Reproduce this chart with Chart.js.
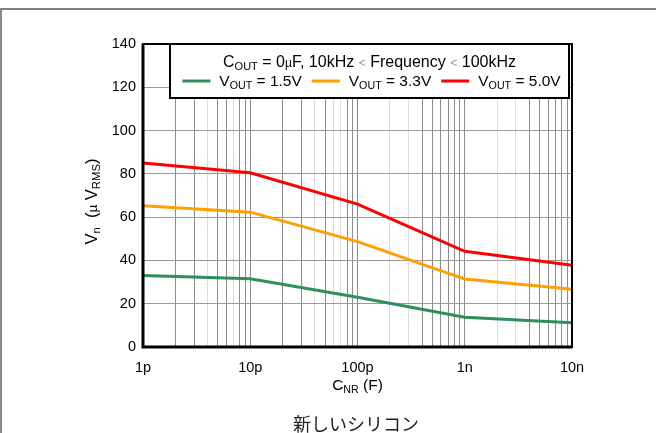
<!DOCTYPE html>
<html>
<head>
<meta charset="utf-8">
<script src="https://cdn.jsdelivr.net/npm/chart.js@4/dist/chart.umd.min.js"></script>
<style>
  html, body { margin: 0; padding: 0; background: #fff; }
  #page { position: relative; width: 656px; height: 433px; overflow: hidden; }
  #frame { position: absolute; left: 0; top: 8px; width: 660px; height: 440px;
           border-top: 2px solid #808080; border-left: 2px solid #8a8a8a; box-sizing: border-box; }
  #wrap { position: absolute; left: 0; top: 0; width: 656px; height: 433px; }
  #caption { position: absolute; left: 0; width: 712px; top: 412px; text-align: center;
             font-family: "Noto Sans CJK JP", sans-serif; font-size: 18px; line-height: 22px; color: #222; }
</style>
</head>
<body>
<div id="page">
  <div id="frame"></div>
  <div id="wrap"><canvas id="chart"></canvas></div>
  <div id="caption">新しいシリコン</div>
</div>
<script>
// C_NR values (F) and their tick labels
const capValues = [1e-12, 1e-11, 1e-10, 1e-9, 1e-8];
const capLabels = ["1p", "10p", "100p", "1n", "10n"];

// noise, uV RMS
const vout15 = [33, 31.5, 23, 13.8, 11.2];
const vout33 = [65.3, 62.3, 48.7, 31.4, 26.7];
const vout50 = [85, 80.5, 66, 44.2, 37.8];

const seriesNames = ["1.5V", "3.3V", "5.0V"];
const seriesColors = ["#2e8f5c", "#ffa000", "#ff0000"];
const yTicks = [0, 20, 40, 60, 80, 100, 120, 140];

const FONT = '"Liberation Sans", Arial, sans-serif';
const BASE = 14.5;

// minor grid lines that render faint in the original, per decade
const faintMinor = { 0: [4, 7], 1: [4, 6, 7], 2: [2, 3], 3: [2, 3] };

const gridValues = [];
for (let d = 0; d < capValues.length - 1; d++) {
  for (let k = 1; k <= 9; k++) gridValues.push(capValues[d] * k);
}
gridValues.push(capValues[capValues.length - 1]);

// rich text: segments with optional subscript / custom size (size relative to 14.5 base)
function segFont(s, base) {
  const size = s.size ? s.size * base / BASE : s.sub ? base * 0.69 : base;
  return size + "px " + FONT;
}
function richWidth(ctx, segs, base) {
  let w = 0;
  segs.forEach((s) => { ctx.font = segFont(s, base); w += ctx.measureText(s.t).width; });
  return w;
}
function drawRich(ctx, segs, x, y, base) {
  segs.forEach((s) => {
    ctx.font = segFont(s, base);
    ctx.fillStyle = s.color || "#000";
    ctx.fillText(s.t, x, y + (s.sub ? base * 0.2 : 0));
    x += ctx.measureText(s.t).width;
  });
  return x;
}

const LT = { t: "<", size: 11, color: "#999" };
const legendTitle = [
  { t: "C" }, { t: "OUT", sub: 1 }, { t: " = 0" }, { t: "µ", size: 11 }, { t: "F, 10kHz " },
  LT, { t: " Frequency " }, LT, { t: " 100kHz" },
];
const yTitle = [{ t: "V" }, { t: "n", sub: 1 }, { t: "  (" }, { t: "µ", size: 12 }, { t: " V" }, { t: "RMS", sub: 1 }, { t: ")" }];
const xTitle = [{ t: "C" }, { t: "NR", sub: 1 }, { t: " (F)" }];

const decor = {
  id: "decor",
  afterDraw(chart) {
    const { ctx, chartArea: a } = chart;
    ctx.save();
    ctx.textAlign = "left";
    ctx.textBaseline = "alphabetic";

    // plot frame
    ctx.strokeStyle = "#000";
    ctx.lineWidth = 2;
    ctx.strokeRect(a.left, a.top, a.right - a.left, a.bottom - a.top);
    ctx.lineWidth = 3;
    ctx.beginPath();
    ctx.moveTo(a.left, a.top);
    ctx.lineTo(a.left, a.bottom);
    ctx.lineTo(a.right, a.bottom);
    ctx.stroke();

    // legend box
    const bx = a.left + 27, by = a.top, bw = a.right - 3 - bx, bh = 54;
    ctx.fillStyle = "#fff";
    ctx.fillRect(bx, by, bw, bh);
    ctx.lineWidth = 2;
    ctx.strokeRect(bx, by, bw, bh);
    const cx = bx + bw / 2;
    drawRich(ctx, legendTitle, cx - richWidth(ctx, legendTitle, 16) / 2, by + 23, 16);

    const items = chart.data.datasets.map((ds) => [{ t: "V" }, { t: "OUT", sub: 1 }, { t: " = " + ds.label }]);
    const fs = 15.5, lineW = 28, gap1 = 9, gap2 = 10;
    let total = 0;
    items.forEach((segs, i) => { total += lineW + gap1 + richWidth(ctx, segs, fs) + (i < items.length - 1 ? gap2 : 0); });
    let x = cx - total / 2 + 2;
    const ly = by + 42;
    items.forEach((segs, i) => {
      ctx.strokeStyle = chart.data.datasets[i].borderColor;
      ctx.lineWidth = 3;
      ctx.beginPath();
      ctx.moveTo(x, ly - 5);
      ctx.lineTo(x + lineW, ly - 5);
      ctx.stroke();
      x = drawRich(ctx, segs, x + lineW + gap1, ly, fs) + gap2;
    });

    // axis titles
    drawRich(ctx, xTitle, (a.left + a.right) / 2 - richWidth(ctx, xTitle, 15.5) / 2, a.bottom + 43, 15.5);
    ctx.translate(a.left - 51, (a.top + a.bottom) / 2 + 6);
    ctx.rotate(-Math.PI / 2);
    drawRich(ctx, yTitle, -richWidth(ctx, yTitle, 16.5) / 2, 5, 16.5);
    ctx.restore();
  },
};

const toPoints = (vals) => capValues.map((x, i) => ({ x, y: vals[i] }));

new Chart(document.getElementById("chart"), {
  type: "line",
  data: {
    datasets: [vout15, vout33, vout50].map((vals, i) => ({
      label: seriesNames[i],
      data: toPoints(vals),
      borderColor: seriesColors[i],
      backgroundColor: seriesColors[i],
      borderWidth: 3,
      pointRadius: 0,
      tension: 0,
      fill: false,
    })),
  },
  options: {
    responsive: true,
    maintainAspectRatio: false,
    animation: false,
    layout: { padding: { top: 44, right: 84, bottom: 0, left: 0 } },
    plugins: { legend: { display: false }, tooltip: { enabled: false } },
    scales: {
      x: {
        type: "logarithmic",
        min: capValues[0],
        max: capValues[capValues.length - 1],
        afterBuildTicks: (s) => { s.ticks = gridValues.map((v) => ({ value: v })); },
        afterFit: (s) => { s.height = 86; },
        border: { display: false },
        grid: {
          drawTicks: false,
          lineWidth: 1,
          color: (c) => {
            const d = Math.floor(c.index / 9), k = (c.index % 9) + 1;
            return (faintMinor[d] || []).includes(k) ? "#dcdcdc" : "#8c8c8c";
          },
        },
        ticks: {
          autoSkip: false,
          maxRotation: 0,
          padding: 12,
          color: "#000",
          font: { family: FONT, size: BASE },
          callback: (v) => {
            const i = capValues.findIndex((c) => Math.abs(c - v) / c < 1e-6);
            return i >= 0 ? capLabels[i] : "";
          },
        },
      },
      y: {
        min: yTicks[0],
        max: yTicks[yTicks.length - 1],
        afterBuildTicks: (s) => { s.ticks = yTicks.map((v) => ({ value: v })); },
        afterFit: (s) => { s.width = 143; },
        border: { display: false },
        grid: { drawTicks: false, color: "#9a9a9a", lineWidth: 1 },
        ticks: { padding: 7, color: "#000", font: { family: FONT, size: BASE } },
      },
    },
  },
  plugins: [decor],
});
</script>
</body>
</html>
